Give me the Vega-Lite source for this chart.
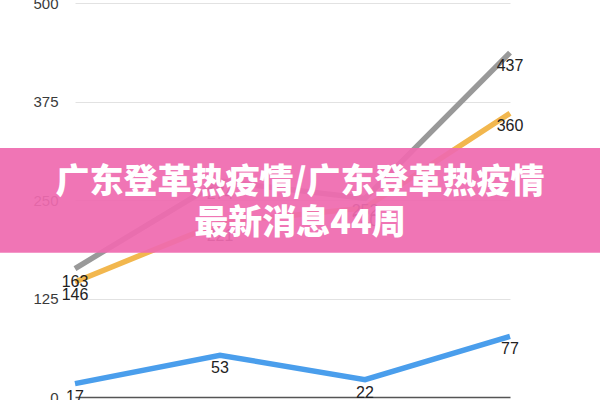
{
  "$schema": "https://vega.github.io/schema/vega-lite/v6.json",
  "autosize": "none",
  "width": 435,
  "height": 394,
  "padding": {"left": 75, "top": 3, "right": 90, "bottom": 3},
  "background": "white",
  "config": {"view": {"stroke": null}, "font": "Liberation Sans",
    "axis": {"labelFontSize": 15, "labelColor": "#3a3a3a", "labelFont": "Liberation Sans"}},
  "datasets": {
    "series": [
      {"week": "W1", "series": "A", "value": 163},
      {"week": "W2", "series": "A", "value": 274},
      {"week": "W3", "series": "A", "value": 252},
      {"week": "W4", "series": "A", "value": 437},
      {"week": "W1", "series": "B", "value": 146},
      {"week": "W2", "series": "B", "value": 221},
      {"week": "W3", "series": "B", "value": 240},
      {"week": "W4", "series": "B", "value": 360},
      {"week": "W1", "series": "C", "value": 17},
      {"week": "W2", "series": "C", "value": 53},
      {"week": "W3", "series": "C", "value": 22},
      {"week": "W4", "series": "C", "value": 77}
    ],
    "banner": [{"top": 316, "bottom": 183}],
    "lines": [{"line": "广东登革热疫情/广东登革热疫情", "v": 272}, {"line": "最新消息44周", "v": 219}]
  },
  "layer": [
    {
      "data": {"name": "series"},
      "mark": {"type": "line", "strokeWidth": 5.5, "strokeCap": "butt"},
      "encoding": {
        "x": {"field": "week", "type": "ordinal", "scale": {"type": "point", "padding": 0}, "axis": null},
        "y": {"field": "value", "type": "quantitative", "scale": {"domain": [0, 500], "nice": false},
          "axis": {"values": [0, 125, 250, 375, 500], "title": null, "domain": false, "ticks": false,
            "labelPadding": 17, "labelFontSize": 15,
            "gridColor": {"condition": {"test": "datum.value === 0", "value": "#555"}, "value": "#e2e2e2"},
            "gridWidth": {"condition": {"test": "datum.value === 0", "value": 1.5}, "value": 1}}},
        "color": {"field": "series", "type": "nominal", "legend": null,
          "scale": {"domain": ["A", "B", "C"], "range": ["#999999", "#F2B74E", "#4A9EEC"]}},
        "order": {"field": "week"}
      }
    },
    {
      "data": {"name": "series"},
      "mark": {"type": "text", "dy": 13, "fontSize": 16, "color": "#222", "font": "Liberation Sans"},
      "encoding": {
        "x": {"field": "week", "type": "ordinal"},
        "y": {"field": "value", "type": "quantitative"},
        "text": {"field": "value", "type": "quantitative"}
      }
    },
    {
      "data": {"name": "banner"},
      "mark": {"type": "rect", "color": "#EF6AAF", "opacity": 0.93, "clip": false},
      "encoding": {
        "x": {"value": -75},
        "x2": {"value": 525},
        "y": {"field": "top", "type": "quantitative"},
        "y2": {"field": "bottom"}
      }
    },
    {
      "data": {"name": "lines"},
      "mark": {"type": "text", "color": "white", "fontSize": 34, "fontWeight": 900, "font": "Noto Sans CJK SC", "baseline": "middle", "align": "center"},
      "encoding": {
        "x": {"value": 225},
        "y": {"field": "v", "type": "quantitative"},
        "text": {"field": "line"}
      }
    }
  ]
}
